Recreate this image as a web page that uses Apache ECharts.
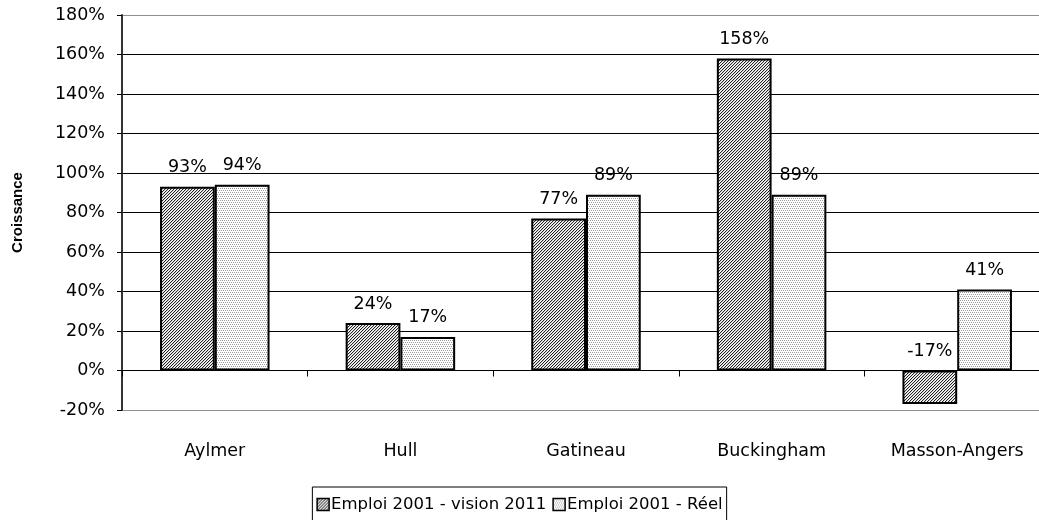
<!DOCTYPE html>
<html>
<head>
<meta charset="utf-8">
<script src="https://cdn.jsdelivr.net/npm/echarts@6/dist/echarts.min.js"></script>
<style>
  html, body { margin: 0; padding: 0; background: #fff; }
  #main { width: 1039px; height: 520px; }
</style>
</head>
<body>
<div id="main"></div>
<script>
// données
var categories = ['Aylmer', 'Hull', 'Gatineau', 'Buckingham', 'Masson-Angers'];
var vision2011 = [93, 24, 77, 158, -17];
var reel = [94, 17, 89, 89, 41];
var seriesNames = ['Emploi 2001 - vision 2011', 'Emploi 2001 - Réel'];
var yTicks = { min: -20, max: 180, interval: 20 };

var FONT = 'DejaVu Sans';

// motif hachuré foncé (diagonales ////)
function darkPattern() {
    var c = document.createElement('canvas');
    c.width = 3; c.height = 3;
    var ctx = c.getContext('2d');
    ctx.fillStyle = '#fff';
    ctx.fillRect(0, 0, 3, 3);
    for (var i = 0; i < 3; i++) {
        ctx.fillStyle = '#222';
        ctx.fillRect(2 - i, i, 1, 1);
        ctx.fillStyle = '#cfcfcf';
        ctx.fillRect((3 - i) % 3, i, 1, 1);
    }
    return c;
}

// motif pointillé clair
function lightPattern() {
    var c = document.createElement('canvas');
    c.width = 4; c.height = 4;
    var ctx = c.getContext('2d');
    ctx.fillStyle = '#fff';
    ctx.fillRect(0, 0, 4, 4);
    ctx.fillStyle = '#9c9c9c';
    ctx.fillRect(0, 0, 1, 1);
    ctx.fillRect(2, 0, 1, 1);
    ctx.fillRect(1, 2, 1, 1);
    ctx.fillRect(3, 2, 1, 1);
    return c;
}

var darkFill = { image: darkPattern(), repeat: 'repeat' };
var lightFill = { image: lightPattern(), repeat: 'repeat' };

var myChart = echarts.init(document.getElementById('main'));

var gridColors = [];
for (var v = yTicks.min; v <= yTicks.max; v += yTicks.interval) {
    gridColors.push(v === yTicks.min || v === yTicks.max ? '#909090' : '#000');
}

function barSeries(name, data, fill) {
    return {
        name: name,
        type: 'bar',
        data: data,
        barGap: '0%',
        barCategoryGap: '41%',
        itemStyle: { color: fill, borderColor: '#000', borderWidth: 2 },
        label: {
            show: true,
            position: 'top',
            distance: 10,
            formatter: '{c}%',
            color: '#000',
            fontFamily: FONT,
            fontSize: 17.5
        }
    };
}

// la zone de tracé déborde à droite de l'image (comme l'original)
myChart.setOption({
    animation: false,
    textStyle: { fontFamily: FONT },
    grid: { left: 122, top: 15, width: 928, height: 395, outerBoundsMode: 'none', containLabel: false },
    legend: {
        top: 487,
        left: 'center',
        itemWidth: 12,
        itemHeight: 12,
        itemGap: 6,
        icon: 'rect',
        borderColor: '#000',
        borderWidth: 1,
        padding: [9, 4, 12, 4],
        itemStyle: { borderColor: '#000', borderWidth: 1.5 },
        textStyle: { fontFamily: FONT, fontSize: 16.5, color: '#000', padding: [0, 0, 0, -3] },
        data: seriesNames
    },
    xAxis: [
        {
            type: 'category',
            data: categories,
            axisLine: { onZero: true, lineStyle: { color: '#000', width: 1 } },
            axisTick: { show: true, length: 6, lineStyle: { color: '#000' } },
            axisLabel: { show: false }
        },
        {
            type: 'category',
            data: categories,
            position: 'bottom',
            axisLine: { show: false },
            axisTick: { show: false },
            axisLabel: { margin: 32, color: '#000', fontFamily: FONT, fontSize: 17.5 }
        }
    ],
    yAxis: {
        type: 'value',
        min: yTicks.min,
        max: yTicks.max,
        interval: yTicks.interval,
        name: 'Croissance',
        nameLocation: 'middle',
        nameGap: 97,
        nameTextStyle: { fontFamily: 'Liberation Sans', fontWeight: 'bold', fontSize: 15, color: '#000' },
        axisLine: { show: true, lineStyle: { color: '#333', width: 2 } },
        axisTick: { show: true, length: 5, lineStyle: { color: '#000' } },
        axisLabel: { formatter: '{value}%', color: '#000', fontFamily: FONT, fontSize: 17.5, margin: 17 },
        splitLine: { show: true, lineStyle: { color: gridColors, width: 1 } }
    },
    series: [
        barSeries(seriesNames[0], vision2011, darkFill),
        barSeries(seriesNames[1], reel, lightFill)
    ]
});
</script>
</body>
</html>
